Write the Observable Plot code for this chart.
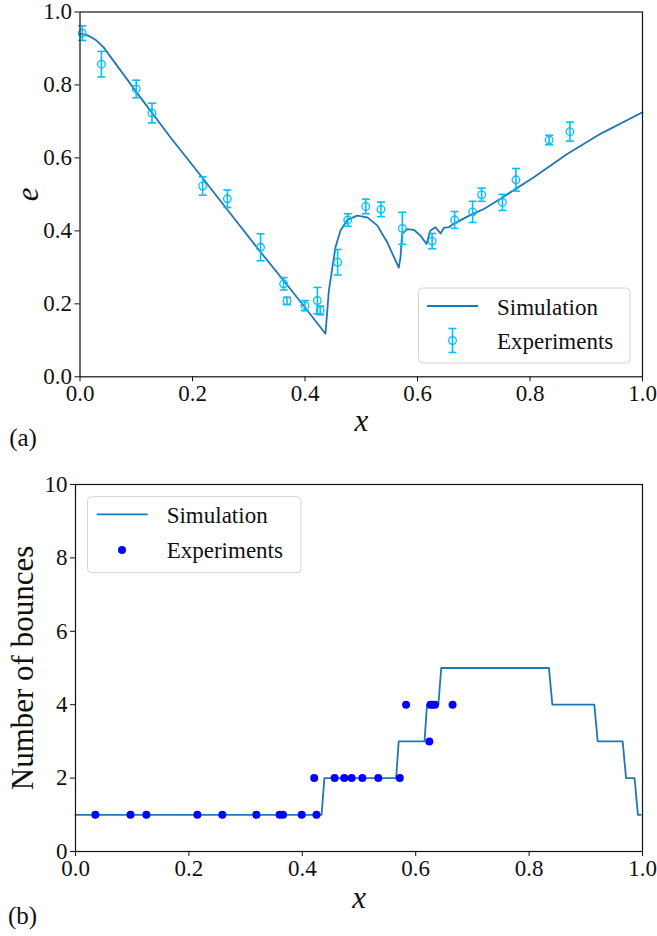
<!DOCTYPE html>
<html>
<head>
<meta charset="utf-8">
<script src="https://cdn.jsdelivr.net/npm/d3@7"></script>
<script src="https://cdn.jsdelivr.net/npm/@observablehq/plot@0.6"></script>
<style>
  html, body { margin: 0; padding: 0; background: #fff; }
  #wrap { width: 657px; }
  .panel { position: relative; width: 657px; height: 468px; }
  .panel svg.legend { position: absolute; left: 0; top: 0; pointer-events: none; }
</style>
</head>
<body>
<div id="wrap"></div>
<script>
// ---------- Panel (a): restitution coefficient e vs x ----------
const simX = [0, 0.01, 0.02, 0.03, 0.042, 0.072, 0.102, 0.161, 0.220, 0.262, 0.322, 0.362, 0.400, 0.4364,
  0.4424, 0.4465, 0.4542, 0.4631, 0.475, 0.4928, 0.5106, 0.5284, 0.5461, 0.5668,
  0.5698, 0.5727, 0.5817, 0.5934, 0.6053, 0.616, 0.6231, 0.632, 0.641, 0.6468, 0.6556, 0.6616,
  0.6706, 0.6884, 0.7179, 0.7476, 0.8068, 0.8661, 0.9253, 1.0];
const simE = [0.940, 0.938, 0.931, 0.921, 0.903, 0.840, 0.777, 0.656, 0.541, 0.458, 0.340, 0.264, 0.190, 0.118,
  0.236, 0.278, 0.355, 0.401, 0.430, 0.442, 0.437, 0.415, 0.369, 0.299,
  0.328, 0.392, 0.405, 0.403, 0.387, 0.364, 0.401, 0.410, 0.393, 0.408, 0.410, 0.417,
  0.424, 0.439, 0.460, 0.488, 0.547, 0.611, 0.666, 0.725];

const expX = [0.004, 0.038, 0.100, 0.128, 0.218, 0.262, 0.321, 0.362, 0.368, 0.400, 0.422, 0.427, 0.458,
  0.476, 0.508, 0.535, 0.573, 0.626, 0.666, 0.698, 0.714, 0.751, 0.775, 0.834, 0.871];
const expE = [0.942, 0.857, 0.789, 0.723, 0.523, 0.488, 0.355, 0.255, 0.208, 0.195, 0.209, 0.182, 0.314,
  0.430, 0.467, 0.459, 0.407, 0.372, 0.430, 0.452, 0.499, 0.478, 0.540, 0.649, 0.672];
const expErr = [0.020, 0.035, 0.024, 0.027, 0.025, 0.024, 0.037, 0.017, 0.010, 0.014, 0.036, 0.012, 0.035,
  0.017, 0.020, 0.020, 0.044, 0.021, 0.023, 0.029, 0.018, 0.022, 0.031, 0.013, 0.026];

// ---------- Panel (b): number of bounces vs x ----------
const bounceSimX = [0, 0.434, 0.439, 0.5655, 0.570, 0.6155, 0.620, 0.640, 0.645, 0.835, 0.841, 0.915, 0.921,
  0.965, 0.971, 0.986, 0.992, 0.997];
const bounceSimN = [1, 1, 2, 2, 3, 3, 4, 4, 5, 5, 4, 4, 3, 3, 2, 2, 1, 1];

const bounceExpX = [0.035, 0.097, 0.125, 0.215, 0.259, 0.319, 0.360, 0.366, 0.399, 0.425,
  0.421, 0.457, 0.474, 0.487, 0.506, 0.534, 0.572,
  0.624,
  0.583, 0.626, 0.630, 0.634, 0.665];
const bounceExpN = [1, 1, 1, 1, 1, 1, 1, 1, 1, 1,
  2, 2, 2, 2, 2, 2, 2,
  3,
  4, 4, 4, 4, 4];

const xTicks = [0, 0.2, 0.4, 0.6, 0.8, 1.0];
const eTicks = [0, 0.2, 0.4, 0.6, 0.8, 1.0];
const nTicks = [0, 2, 4, 6, 8, 10];

const simColor = "#1f77b4";
const expColor = "#00bfff";
const dotColor = "#0000ff";

const simData = simX.map((x, i) => ({x, e: simE[i]}));
const expData = expX.map((x, i) => ({x, e: expE[i], err: expErr[i]}));
const bSim = bounceSimX.map((x, i) => ({x, n: bounceSimN[i]}));
const bExp = bounceExpX.map((x, i) => ({x, n: bounceExpN[i]}));

const cap = {draw(ctx) { ctx.moveTo(-4, 0); ctx.lineTo(4, 0); }};
const font = "Liberation Serif";
const lbl = {textAnchor: "middle", lineAnchor: "middle"};

const chartA = Plot.plot({
  width: 657, height: 468,
  marginLeft: 79.5, marginRight: 15, marginTop: 11.5, marginBottom: 91.7,
  style: {fontSize: "23px", color: "#111", background: "white"},
  x: {domain: [0, 1], ticks: xTicks, tickFormat: d3.format(".1f"), tickSize: 5, tickPadding: 3, label: null},
  y: {domain: [0, 1], ticks: eTicks, tickFormat: d3.format(".1f"), tickSize: 5, tickPadding: 3, label: null},
  marks: [
    Plot.line(simData, {x: "x", y: "e", stroke: simColor, strokeWidth: 1.8}),
    Plot.ruleX(expData, {x: "x", y1: d => d.e - d.err, y2: d => d.e + d.err, stroke: expColor, strokeWidth: 1.6}),
    Plot.dot(expData, {x: "x", y: d => d.e - d.err, symbol: cap, fill: "none", stroke: expColor, strokeWidth: 1.6}),
    Plot.dot(expData, {x: "x", y: d => d.e + d.err, symbol: cap, fill: "none", stroke: expColor, strokeWidth: 1.6}),
    Plot.dot(expData, {x: "x", y: "e", r: 3.8, fill: "white", fillOpacity: 0, stroke: expColor, strokeWidth: 1.3}),
    Plot.frame({stroke: "#111", strokeWidth: 1.2}),
    Plot.text(["x"], {...lbl, frameAnchor: "bottom", dy: 44, fontSize: 31, fontStyle: "italic"}),
    Plot.text(["e"], {...lbl, frameAnchor: "left", dx: -52, rotate: -90, fontSize: 31, fontStyle: "italic"}),
    Plot.text(["(a)"], {...lbl, frameAnchor: "bottom-left", dx: -57, dy: 61, fontSize: 25})
  ]
});

const chartB = Plot.plot({
  width: 657, height: 468,
  marginLeft: 75, marginRight: 15, marginTop: 16, marginBottom: 85,
  style: {fontSize: "23px", color: "#111", background: "white"},
  x: {domain: [0, 1], ticks: xTicks, tickFormat: d3.format(".1f"), tickSize: 5, tickPadding: 3, label: null},
  y: {domain: [0, 10], ticks: nTicks, tickFormat: d3.format("d"), tickSize: 5, tickPadding: 3, label: null},
  marks: [
    Plot.line(bSim, {x: "x", y: "n", stroke: simColor, strokeWidth: 1.8}),
    Plot.dot(bExp, {x: "x", y: "n", r: 4, fill: dotColor}),
    Plot.frame({stroke: "#111", strokeWidth: 1.2}),
    Plot.text(["x"], {...lbl, frameAnchor: "bottom", dy: 47, fontSize: 31, fontStyle: "italic"}),
    Plot.text(["Number of bounces"], {...lbl, frameAnchor: "left", dx: -52, rotate: -90, fontSize: 31}),
    Plot.text(["(b)"], {...lbl, frameAnchor: "bottom-left", dx: -53, dy: 64, fontSize: 25})
  ]
});

function panel(chart, legendSvg) {
  const div = document.createElement("div");
  div.className = "panel";
  div.appendChild(chart);
  div.insertAdjacentHTML("beforeend", legendSvg);
  document.getElementById("wrap").appendChild(div);
  div.querySelectorAll("svg").forEach(s => s.setAttribute("font-family", font));
  div.querySelectorAll("text").forEach(t => { t.style.fontFamily = "'" + font + "'"; t.setAttribute("font-family", font); });
}

const lt = `font-size="23" fill="#111"`;
const legendA = `<svg class="legend" width="657" height="468">
  <rect x="418.5" y="288" width="211.5" height="75" rx="4" fill="white" fill-opacity="0.8" stroke="#d4d4d4"/>
  <line x1="427" x2="478" y1="306" y2="306" stroke="${simColor}" stroke-width="1.8"/>
  <line x1="452.5" x2="452.5" y1="328.5" y2="352.5" stroke="${expColor}" stroke-width="1.6"/>
  <line x1="448.5" x2="456.5" y1="328.5" y2="328.5" stroke="${expColor}" stroke-width="1.6"/>
  <line x1="448.5" x2="456.5" y1="352.5" y2="352.5" stroke="${expColor}" stroke-width="1.6"/>
  <circle cx="452.5" cy="340.5" r="3.8" fill="none" stroke="${expColor}" stroke-width="1.3"/>
  <text x="497" y="315" ${lt}>Simulation</text>
  <text x="497" y="349" ${lt}>Experiments</text>
</svg>`;

const legendB = `<svg class="legend" width="657" height="468">
  <rect x="87.5" y="28.7" width="213.5" height="76" rx="4" fill="white" fill-opacity="0.8" stroke="#d4d4d4"/>
  <line x1="96.7" x2="147.7" y1="46.3" y2="46.3" stroke="${simColor}" stroke-width="1.8"/>
  <circle cx="122" cy="82" r="4" fill="${dotColor}"/>
  <text x="166.7" y="55.3" ${lt}>Simulation</text>
  <text x="166.7" y="90.3" ${lt}>Experiments</text>
</svg>`;

panel(chartA, legendA);
panel(chartB, legendB);
</script>
</body>
</html>
